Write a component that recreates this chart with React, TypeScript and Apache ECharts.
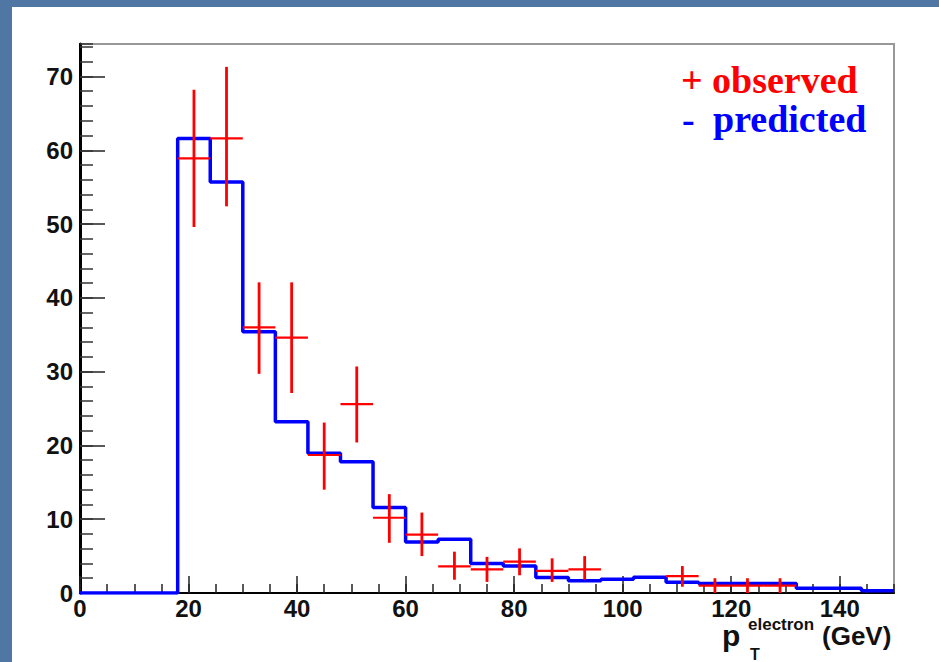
import React, { useEffect, useRef } from "react";
import * as echarts from "echarts";

// ---------- data ----------
const X_MIN = 0;
const X_MAX = 150;
const Y_MIN = 0;
const Y_MAX = 74.4;

const xMajorTicks = [0, 20, 40, 60, 80, 100, 120, 140];
const yMajorTicks = [0, 10, 20, 30, 40, 50, 60, 70];

// predicted histogram: left bin edges (GeV) and contents
const predEdges = [18, 24, 30, 36, 42, 48, 54, 60, 66, 72, 78, 84, 90, 96, 102, 108, 114, 120, 126, 132, 138, 144];
const predValues = [61.6, 55.7, 35.4, 23.2, 18.95, 17.8, 11.6, 6.9, 7.3, 4.0, 3.65, 2.1, 1.65, 1.85, 2.15, 1.45, 1.3, 1.3, 1.3, 0.63, 0.63, 0.32];

// observed points: bin centres, values and error band
const obsX = [21, 27, 33, 39, 45, 51, 57, 63, 69, 75, 81, 87, 93, 111, 117, 123, 129];
const obsValues = [58.9, 61.6, 36.0, 34.6, 18.7, 25.6, 10.2, 7.9, 3.6, 3.2, 4.25, 3.0, 3.2, 2.3, 1.0, 1.0, 1.0];
const obsLow = [49.6, 52.4, 29.7, 27.1, 14.0, 20.4, 6.8, 5.0, 1.8, 1.5, 2.4, 1.5, 1.8, 0.85, 0.0, 0.0, 0.0];
const obsHigh = [68.2, 71.3, 42.1, 42.1, 23.1, 30.7, 13.4, 10.9, 5.6, 4.9, 6.05, 4.7, 5.0, 3.65, 2.0, 2.0, 2.0];

const BIN_HALF = 3;

const legendObserved = "observed";
const legendPredicted = "predicted";

export default function App() {
  const ref = useRef<HTMLDivElement>(null);

  useEffect(() => {
    document.body.style.margin = "0";
    document.body.style.background = "#5077a3";
    if (!ref.current) return;
    const chart = echarts.init(ref.current, undefined, { renderer: "svg" });

    const lineData: number[][] = [[X_MIN, 0]];
    predEdges.forEach((e, i) => lineData.push([e, predValues[i]]));
    lineData.push([X_MAX, predValues[predValues.length - 1]]);

    const obsData = obsX.map((x, i) => [x, obsValues[i], obsLow[i], obsHigh[i]]);

    const labelFont = {
      fontFamily: "Liberation Sans, Arial, sans-serif",
      fontWeight: "bold" as const,
      fontSize: 24,
      lineHeight: 20,
      color: "#111",
    };

    const serifLegend = "Liberation Serif, Times New Roman, serif";
    const sans = "Liberation Sans, Arial, sans-serif";

    chart.setOption({
      animation: false,
      backgroundColor: "#ffffff",
      grid: {
        left: 68,
        right: 45,
        top: 37,
        bottom: 69,
        show: true,
        backgroundColor: "#ffffff",
        borderColor: "#999999",
        borderWidth: 2,
      },
      xAxis: [
        {
          type: "value",
          min: X_MIN,
          max: X_MAX,
          interval: 20,
          axisLine: { show: true, onZero: false, lineStyle: { color: "#000", width: 2 } },
          axisTick: { show: true, inside: true, length: 17, customValues: xMajorTicks, lineStyle: { color: "#222", width: 1.5 } },
          axisLabel: { ...labelFont, margin: 5, customValues: xMajorTicks },
          splitLine: { show: false },
        },
        {
          type: "value",
          min: X_MIN,
          max: X_MAX,
          interval: 5,
          position: "bottom",
          axisLine: { show: false },
          axisTick: { show: true, inside: true, length: 9, lineStyle: { color: "#222", width: 1.5 } },
          axisLabel: { show: false },
          splitLine: { show: false },
        },
      ],
      yAxis: [
        {
          type: "value",
          min: Y_MIN,
          max: Y_MAX,
          interval: 10,
          axisLine: { show: true, onZero: false, lineStyle: { color: "#000", width: 3 } },
          axisTick: { show: true, inside: true, length: 25, customValues: yMajorTicks, lineStyle: { color: "#222", width: 1.5 } },
          axisLabel: { ...labelFont, margin: 7, customValues: yMajorTicks },
          splitLine: { show: false },
        },
        {
          type: "value",
          min: Y_MIN,
          max: Y_MAX,
          interval: 2,
          position: "left",
          axisLine: { show: false },
          axisTick: { show: true, inside: true, length: 13, lineStyle: { color: "#333", width: 1.5 } },
          axisLabel: { show: false },
          splitLine: { show: false },
        },
      ],
      series: [
        {
          name: legendPredicted,
          type: "line",
          xAxisIndex: 0,
          yAxisIndex: 0,
          step: "end",
          data: lineData,
          showSymbol: false,
          symbol: "none",
          lineStyle: { color: "#0000ff", width: 3.5 },
          z: 2,
        },
        {
          name: legendObserved,
          type: "custom",
          xAxisIndex: 0,
          yAxisIndex: 0,
          data: obsData,
          z: 3,
          clip: true,
          renderItem: (params: any, api: any) => {
            const x = api.value(0);
            const v = api.value(1);
            const lo = api.value(2);
            const hi = api.value(3);
            const pL = api.coord([x - BIN_HALF, v]);
            const pR = api.coord([x + BIN_HALF, v]);
            const pLo = api.coord([x, lo]);
            const pHi = api.coord([x, hi]);
            return {
              type: "group",
              children: [
                {
                  type: "line",
                  shape: { x1: pLo[0], y1: pLo[1], x2: pHi[0], y2: pHi[1] },
                  style: { stroke: "#ff0000", lineWidth: 2.8 },
                },
                {
                  type: "line",
                  shape: { x1: pL[0], y1: pL[1], x2: pR[0], y2: pR[1] },
                  style: { stroke: "#ff0000", lineWidth: 2.2 },
                },
              ],
            };
          },
        },
      ],
      graphic: [
        {
          type: "text",
          left: 669,
          top: 54,
          style: { text: "+", fill: "#ff0000", font: `bold 38px ${serifLegend}` },
        },
        {
          type: "text",
          left: 700,
          top: 54,
          style: { text: legendObserved, fill: "#ff0000", font: `bold 38px ${serifLegend}` },
        },
        {
          type: "text",
          left: 670,
          top: 93,
          style: { text: "-", fill: "#0000ff", font: `bold 38px ${serifLegend}` },
        },
        {
          type: "text",
          left: 701,
          top: 93,
          style: { text: legendPredicted, fill: "#0000ff", font: `bold 38px ${serifLegend}` },
        },
        {
          type: "text",
          left: 710,
          top: 613,
          style: { text: "p", fill: "#111", font: `bold 30px ${sans}`, lineHeight: 18 },
        },
        {
          type: "text",
          left: 736,
          top: 609,
          style: { text: "electron", fill: "#111", font: `bold 17px ${sans}`, lineHeight: 13 },
        },
        {
          type: "text",
          left: 738,
          top: 639,
          style: { text: "T", fill: "#111", font: `bold 16px ${sans}`, lineHeight: 13 },
        },
        {
          type: "text",
          left: 810,
          top: 616,
          style: { text: "(GeV)", fill: "#111", font: `bold 26px ${sans}`, lineHeight: 26 },
        },
      ],
    });

    return () => chart.dispose();
  }, []);

  return (
    <div style={{ position: "relative", width: 939, height: 662, background: "#5077a3", overflow: "hidden" }}>
      <div ref={ref} style={{ position: "absolute", left: 12, top: 7, width: 927, height: 655 }} />
    </div>
  );
}
